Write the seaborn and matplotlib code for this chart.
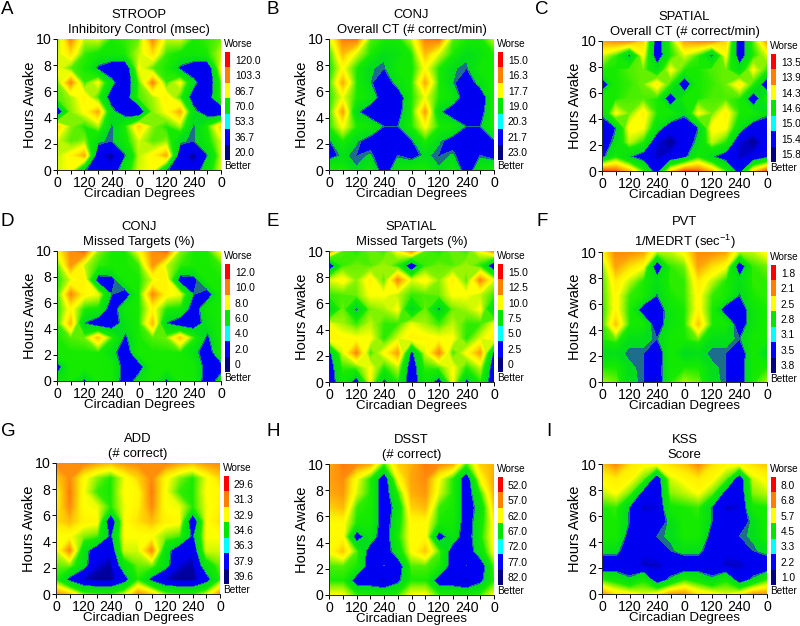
import numpy as np
import seaborn as sns
import matplotlib.pyplot as plt
from matplotlib.colors import LinearSegmentedColormap, ListedColormap

# values are read as positions on the colour key: 0 = bottom band (better), 6 = top band (worse)
# one row per hours awake, from 10 down to 0, one column per circadian degree 0..300
stroop = [[3.3, 5.0, 3.6, 3.7, 3.0, 3.1],
          [3.6, 4.3, 3.1, 2.9, 2.8, 3.0],
          [3.9, 3.2, 3.0, 1.7, 1.1, 1.0],
          [3.2, 5.0, 3.1, 3.9, 2.2, 0.9],
          [3.2, 3.5, 4.1, 3.1, 1.3, 1.2],
          [0.9, 3.4, 3.9, 4.7, 2.2, 1.3],
          [4.4, 3.4, 3.0, 3.5, 1.87, 3.0],
          [3.7, 3.2, 3.4, 2.1, 1.87, 2.8],
          [3.6, 4.0, 4.7, 1.2, 0.7, 1.87],
          [3.7, 3.9, 2.0, 1.2, 1.2, 2.6]]
conj_ct = [[3.6, 5.1, 5.2, 3.2, 3.0, 2.9],
           [3.0, 4.6, 3.7, 3.0, 2.15, 2.5],
           [2.9, 3.9, 3.0, 2.05, 1.87, 2.8],
           [3.0, 4.7, 3.0, 2.0, 1.2, 2.3],
           [3.0, 3.8, 3.0, 2.6, 1.2, 1.1],
           [3.0, 4.8, 2.1, 1.2, 1.2, 1.4],
           [3.0, 3.9, 3.0, 2.7, 1.87, 1.87],
           [1.8, 3.0, 2.05, 1.5, 1.1, 1.2],
           [1.5, 2.1, 1.84, 2.05, 1.2, 1.87],
           [2.9, 3.0, 2.05, 2.8, 1.3, 2.6]]
spatial_ct = [[4.8, 5.0, 5.0, 4.4, 1.2, 3.2],
              [3.7, 3.1, 1.7, 3.9, 1.2, 3.0],
              [3.0, 3.0, 3.2, 3.3, 2.4, 3.9],
              [1.0, 3.0, 3.1, 3.3, 4.1, 3.0],
              [3.0, 3.0, 3.2, 3.2, 3.0, 1.1],
              [2.1, 3.9, 3.3, 4.1, 3.0, 2.9],
              [1.2, 1.87, 4.0, 3.9, 2.4, 1.2],
              [1.2, 2.2, 3.6, 3.0, 1.0, 0.7],
              [1.6, 2.9, 2.0, 1.4, 0.9, 1.1],
              [5.4, 5.3, 4.5, 3.1, 1.3, 4.2]]
conj_missed = [[3.9, 5.0, 5.3, 3.4, 3.0, 3.0],
               [3.1, 4.9, 3.6, 3.1, 3.0, 3.0],
               [3.0, 3.7, 4.1, 1.4, 1.5, 3.0],
               [3.0, 5.0, 4.0, 3.8, 1.87, 1.3],
               [3.0, 4.0, 3.0, 2.9, 1.3, 2.7],
               [3.0, 4.6, 1.9, 1.2, 1.2, 2.4],
               [3.0, 3.2, 3.3, 4.5, 3.1, 1.7],
               [3.0, 3.0, 3.0, 3.0, 2.3, 1.2],
               [1.4, 3.0, 3.0, 3.0, 2.9, 1.3],
               [2.4, 3.0, 1.7, 3.0, 2.9, 1.2]]
spatial_missed = [[5.0, 3.2, 3.0, 3.3, 3.1, 3.9],
                  [1.0, 3.1, 3.3, 3.2, 3.5, 3.0],
                  [3.7, 4.0, 3.4, 4.1, 3.2, 5.0],
                  [3.1, 3.2, 3.3, 3.9, 3.9, 3.6],
                  [1.9, 3.3, 1.75, 3.3, 3.5, 3.9],
                  [3.8, 3.5, 3.1, 3.6, 3.1, 3.1],
                  [4.1, 4.0, 3.9, 3.9, 3.0, 3.7],
                  [1.6, 3.7, 5.0, 3.1, 3.9, 4.8],
                  [1.2, 3.1, 3.2, 3.9, 3.0, 3.6],
                  [1.1, 2.8, 1.3, 3.9, 1.6, 3.0]]
pvt = [[4.0, 5.0, 5.0, 4.8, 3.5, 3.6],
       [3.3, 4.8, 4.3, 3.9, 1.1, 3.1],
       [3.1, 4.2, 3.6, 3.0, 2.3, 3.1],
       [3.1, 4.0, 3.1, 3.0, 1.87, 3.0],
       [3.0, 4.0, 3.0, 1.3, 1.1, 2.6],
       [3.0, 4.5, 3.0, 2.9, 1.2, 2.6],
       [3.0, 3.3, 2.2, 2.2, 1.87, 2.9],
       [2.0, 2.2, 1.87, 1.87, 1.1, 2.9],
       [3.0, 3.0, 2.1, 1.87, 1.3, 2.9],
       [3.5, 3.3, 2.2, 1.87, 1.2, 3.0]]
add_correct = [[5.0, 5.0, 5.1, 4.8, 4.6, 4.9],
               [4.4, 5.0, 4.0, 3.4, 3.0, 3.8],
               [4.0, 5.1, 3.9, 3.1, 3.0, 3.9],
               [4.1, 5.0, 3.9, 3.8, 3.0, 3.8],
               [4.3, 4.6, 4.1, 4.0, 0.9, 3.9],
               [3.9, 3.9, 3.4, 3.2, 1.7, 3.9],
               [3.7, 5.0, 2.4, 1.2, 1.1, 3.7],
               [3.3, 3.4, 2.3, 1.0, 0.8, 2.6],
               [3.0, 1.6, 0.9, 0.7, 0.7, 1.4],
               [4.9, 4.4, 3.3, 3.1, 3.0, 3.6]]
dsst = [[4.7, 5.1, 5.0, 4.7, 3.1, 4.4],
        [4.8, 5.0, 3.9, 3.0, 1.2, 3.9],
        [4.7, 4.9, 3.7, 3.0, 1.2, 3.0],
        [4.4, 4.6, 3.1, 3.0, 1.2, 2.4],
        [4.0, 4.0, 3.0, 2.9, 1.2, 2.7],
        [4.0, 4.0, 1.3, 2.5, 1.2, 2.9],
        [3.9, 4.5, 3.2, 1.3, 1.2, 2.5],
        [3.2, 3.2, 3.0, 1.3, 1.87, 1.2],
        [3.0, 3.0, 1.3, 1.2, 0.8, 1.6],
        [3.9, 3.9, 3.1, 3.0, 2.9, 3.1]]
kss = [[4.5, 5.0, 4.3, 4.0, 4.0, 4.3],
       [4.0, 4.2, 4.0, 3.3, 1.2, 3.7],
       [3.6, 3.9, 3.3, 1.5, 1.1, 3.4],
       [3.0, 3.1, 1.87, 0.9, 1.0, 2.9],
       [3.0, 3.0, 1.87, 1.2, 1.2, 2.2],
       [3.0, 3.0, 1.4, 1.2, 1.87, 2.1],
       [2.3, 2.2, 1.2, 1.1, 1.2, 1.87],
       [1.0, 1.2, 1.2, 0.9, 0.9, 1.1],
       [3.0, 2.7, 2.1, 2.9, 1.2, 2.1],
       [4.9, 4.2, 4.0, 3.7, 4.0, 4.8]]

grids = [stroop, conj_ct, spatial_ct, conj_missed, spatial_missed, pvt, add_correct, dsst, kss]
letters = ['A', 'B', 'C', 'D', 'E', 'F', 'G', 'H', 'I']
titles = ['STROOP', 'CONJ', 'SPATIAL', 'CONJ', 'SPATIAL', 'PVT', 'ADD', 'DSST', 'KSS']
subtitles = ['Inhibitory Control (msec)', 'Overall CT (# correct/min)', 'Overall CT (# correct/min)',
             'Missed Targets (%)', 'Missed Targets (%)', '1/MEDRT (sec$^{-1}$)',
             '(# correct)', '(# correct)', 'Score']
key_labels = [['120.0', '103.3', '86.7', '70.0', '53.3', '36.7', '20.0'],
              ['15.0', '16.3', '17.7', '19.0', '20.3', '21.7', '23.0'],
              ['13.5', '13.9', '14.3', '14.6', '15.0', '15.4', '15.8'],
              ['12.0', '10.0', '8.0', '6.0', '4.0', '2.0', '0'],
              ['15.0', '12.5', '10.0', '7.5', '5.0', '2.5', '0'],
              ['1.8', '2.1', '2.5', '2.8', '3.1', '3.5', '3.8'],
              ['29.6', '31.3', '32.9', '34.6', '36.3', '37.9', '39.6'],
              ['52.0', '57.0', '62.0', '67.0', '72.0', '77.0', '82.0'],
              ['8.0', '6.8', '5.7', '4.5', '3.3', '2.2', '1.0']]
degrees = [0, 60, 120, 180, 240, 300, 360, 420, 480, 540, 600, 660, 720]
degree_labels = ['0', '', '120', '', '240', '', '0', '', '120', '', '240', '', '0']
hour_ticks = [0, 2, 4, 6, 8, 10]
hours = np.linspace(0, 10, 10)
key_colors = ['#ff0000', '#ff8000', '#ffff00', '#00e600', '#00ffff', '#0000ff', '#000080']

# panel boxes in pixels: left, top, right, bottom
boxes = [(57, 39, 221, 170), (329, 39, 494, 170), (602, 41, 767, 171),
         (57, 251, 221, 381), (329, 251, 494, 382), (602, 252, 767, 382),
         (56, 463, 220, 594), (329, 464, 494, 595), (602, 464, 767, 594)]
letter_pos = [(1, 9), (267, 9), (535, 9), (1, 221), (267, 221), (537, 221), (1, 431), (267, 431), (546, 431)]

sns.set_theme(style='ticks')
plt.rcParams['font.family'] = ['Liberation Sans', 'DejaVu Sans']
plt.rcParams['mathtext.default'] = 'regular'
plt.rcParams['axes.linewidth'] = 0.7

W, H = 800, 626

# green is flat just above 2, blue starts right below it with a thin teal step
stops = [(0.0, '#00006e'), (0.8, '#0000a0'), (1.05, '#0000f0'), (1.849, '#0000f5'), (1.85, '#1c6e8c'),
         (1.999, '#1c6e8c'), (2.0, '#00dc1e'), (3.0, '#14eb00'), (3.5, '#a0f500'), (3.9, '#ffff00'),
         (4.2, '#ffee00'), (5.0, '#ff8c0a'), (6.0, '#ff0000')]
field_cmap = LinearSegmentedColormap.from_list('field', [(s / 6, c) for s, c in stops], N=1024)
levels = np.linspace(0, 6, 181)


def px_box(left, top, right, bottom):
    return [left / W, 1 - bottom / H, (right - left) / W, (bottom - top) / H]


fig = plt.figure(figsize=(8, 6.26), dpi=100)

for i in range(9):
    left, top, right, bottom = boxes[i]
    ax = fig.add_axes(px_box(left, top, right, bottom))

    # rows are hours 10..0 and the cycle is plotted twice
    grid = np.array(grids[i])[::-1]
    z = np.hstack([grid, grid, grid[:, :1]])
    ax.contourf(degrees, hours, z, levels=levels, cmap=field_cmap, vmin=0, vmax=6, extend='both')

    ax.set_xlim(0, 720)
    ax.set_ylim(0, 10)
    ax.set_xticks(degrees)
    ax.set_xticklabels(degree_labels)
    ax.set_yticks(hour_ticks)
    ax.tick_params(axis='both', length=3, width=0.7, pad=1, labelsize=10.2, color='black', labelcolor='black')
    ax.set_xlabel('Circadian Degrees', fontsize=9.6, labelpad=-1.2, color='black')
    ax.set_ylabel('Hours Awake', fontsize=10.5, labelpad=-1, color='black')
    ax.set_title(titles[i] + '\n' + subtitles[i], fontsize=9.4, pad=4, linespacing=1.4, color='black')
    sns.despine(ax=ax)

    # colour key, one cell per band
    cax = fig.add_axes(px_box(right + 4, top + 13, right + 9, top + 121))
    bands = np.arange(7).reshape(-1, 1)
    sns.heatmap(bands, ax=cax, cmap=ListedColormap(key_colors), cbar=False, vmin=0, vmax=6,
                xticklabels=False, yticklabels=key_labels[i])
    cax.yaxis.tick_right()
    cax.tick_params(axis='y', length=0, pad=3.5, labelsize=7.4, labelrotation=0, labelcolor='black')
    cax.text(-0.2, 1.07, 'Worse', transform=cax.transAxes, fontsize=7.2, ha='left', va='center', color='black')
    cax.text(-0.2, -0.055, 'Better', transform=cax.transAxes, fontsize=7.2, ha='left', va='center', color='black')

    x, y = letter_pos[i]
    fig.text(x / W, 1 - y / H, letters[i], fontsize=13.5, ha='left', va='center', color='black')

plt.savefig('out.png', dpi=100)
